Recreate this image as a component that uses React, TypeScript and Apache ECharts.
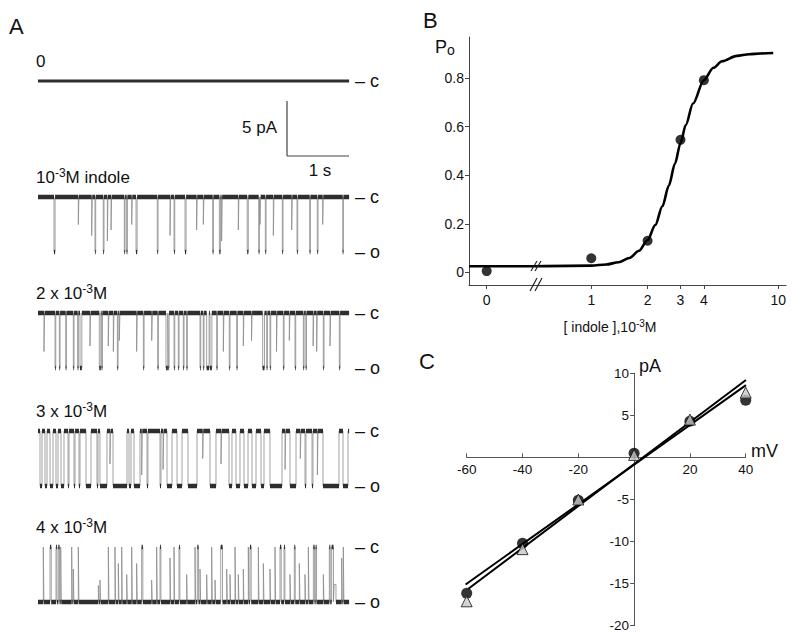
import React, { useEffect, useRef } from "react";
import * as echarts from "echarts";

const FONT = "'Liberation Sans', Arial, Helvetica, sans-serif";

// ---------------- Panel A : single-channel records ----------------
const traceDuration = 5.1; // s
const unitaryCurrent = -5; // pA (open level)
const traceLabelParts = [
  ["0", "", ""],
  ["10", "-3", "M indole"],
  ["2 x 10", "-3", "M"],
  ["3 x 10", "-3", "M"],
  ["4 x 10", "-3", "M"],
];
// base state of each record: 0 = closed, 1 = open
const traceBase = [0, 0, 0, 0, 1];
// events: [start s, end s, open fraction]
const trace0Events: number[][] = [];
const trace1Events: number[][] = [
  [0.262, 0.28, 1], [0.661, 0.671, 0.5], [0.88, 0.89, 0.7], [0.934, 0.946, 1], [1.07, 1.082, 1],
  [1.137, 1.147, 0.8], [1.197, 1.207, 0.6], [1.415, 1.427, 1], [1.453, 1.465, 1], [1.536, 1.546, 0.5],
  [1.607, 1.625, 1], [1.956, 1.968, 1], [2.164, 2.174, 0.7], [2.23, 2.242, 1], [2.41, 2.428, 1],
  [2.6, 2.61, 0.6], [2.71, 2.72, 0.5], [2.864, 2.876, 1], [2.973, 2.991, 1], [3.01, 3.02, 0.8],
  [3.284, 3.294, 0.6], [3.43, 3.448, 1], [3.618, 3.63, 1], [3.64, 3.65, 0.5], [3.727, 3.739, 1],
  [3.858, 3.868, 0.7], [4.005, 4.017, 1], [4.159, 4.169, 0.6], [4.246, 4.258, 1], [4.454, 4.466, 1],
  [4.579, 4.591, 1], [4.667, 4.677, 0.5], [4.995, 5.007, 1],
];
const trace2Events: number[][] = [
  [0.098, 0.108, 0.7], [0.279, 0.291, 1], [0.35, 0.362, 1], [0.454, 0.466, 1], [0.579, 0.591, 1],
  [0.65, 0.662, 1], [0.689, 0.719, 1], [0.852, 0.862, 0.6], [1.005, 1.03, 1], [1.044, 1.056, 1],
  [1.152, 1.162, 0.6], [1.235, 1.245, 0.7], [1.301, 1.313, 1], [1.333, 1.343, 0.5], [1.617, 1.627, 0.7],
  [1.727, 1.739, 1], [1.864, 1.874, 0.5], [1.962, 1.974, 1], [2.098, 2.128, 1], [2.137, 2.149, 1],
  [2.23, 2.242, 1], [2.3, 2.312, 1], [2.382, 2.394, 1], [2.437, 2.449, 1], [2.656, 2.668, 1],
  [2.71, 2.722, 1], [2.765, 2.805, 1], [2.82, 2.85, 1], [2.929, 2.941, 1], [3.038, 3.048, 0.7],
  [3.136, 3.148, 1], [3.257, 3.269, 1], [3.366, 3.376, 0.6], [3.5, 3.51, 0.5], [3.683, 3.713, 1],
  [3.749, 3.761, 1], [3.803, 3.815, 1], [3.91, 3.92, 0.7], [4.022, 4.034, 1], [4.12, 4.13, 0.5],
  [4.213, 4.225, 1], [4.35, 4.362, 1], [4.39, 4.402, 1], [4.51, 4.52, 0.6], [4.568, 4.578, 0.7],
  [4.677, 4.689, 1], [4.787, 4.797, 0.6], [4.94, 4.952, 1],
];
const trace3Events: number[][] = [
  [0.033, 0.066, 1], [0.115, 0.148, 1], [0.197, 0.246, 1], [0.295, 0.328, 1], [0.377, 0.426, 1],
  [0.492, 0.508, 1], [0.59, 0.607, 1], [0.672, 0.689, 1], [0.787, 0.869, 1], [0.967, 0.984, 1],
  [1.016, 1.131, 1], [1.18, 1.19, 0.6], [1.23, 1.459, 1], [1.492, 1.525, 1], [1.574, 1.672, 1],
  [1.7, 1.71, 0.8], [1.787, 1.803, 1], [2.0, 2.016, 1], [2.05, 2.06, 0.7], [2.115, 2.197, 1],
  [2.279, 2.361, 1], [2.459, 2.607, 1], [2.7, 2.71, 0.5], [2.82, 2.918, 1], [3.0, 3.01, 0.6],
  [3.131, 3.18, 1], [3.246, 3.311, 1], [3.377, 3.443, 1], [3.508, 3.574, 1], [3.656, 3.705, 1],
  [3.803, 4.0, 1], [4.05, 4.06, 0.7], [4.131, 4.23, 1], [4.3, 4.31, 0.5], [4.377, 4.393, 1],
  [4.492, 4.508, 1], [4.58, 4.59, 0.8], [4.672, 4.934, 1], [5.0, 5.082, 1],
];
const trace4Events: number[][] = [
  [0.087, 0.097, 0], [0.197, 0.217, 0], [0.295, 0.31, 0], [0.333, 0.353, 0], [0.372, 0.382, 0],
  [0.552, 0.562, 0], [0.579, 0.589, 0.4], [0.661, 0.671, 0], [0.989, 0.999, 0.7], [1.016, 1.026, 0.6],
  [1.153, 1.163, 0], [1.262, 1.272, 0], [1.317, 1.327, 0.3], [1.372, 1.382, 0], [1.454, 1.464, 0.5],
  [1.536, 1.546, 0], [1.617, 1.627, 0.3], [1.699, 1.719, 0], [1.863, 1.873, 0.6], [1.945, 1.955, 0],
  [2.0, 2.015, 0], [2.164, 2.174, 0.2], [2.23, 2.24, 0], [2.311, 2.326, 0], [2.437, 2.447, 0.5],
  [2.574, 2.584, 0], [2.612, 2.632, 0], [2.656, 2.666, 0.4], [2.765, 2.775, 0.5], [2.847, 2.857, 0],
  [2.902, 2.912, 0.6], [2.995, 3.025, 0], [3.093, 3.103, 0.4], [3.148, 3.158, 0.5], [3.23, 3.24, 0],
  [3.284, 3.294, 0.5], [3.366, 3.376, 0.4], [3.448, 3.458, 0], [3.475, 3.495, 0], [3.612, 3.622, 0],
  [3.694, 3.704, 0.3], [3.803, 3.813, 0.4], [3.885, 3.895, 0], [3.967, 3.987, 0], [4.033, 4.048, 0],
  [4.131, 4.141, 0.5], [4.202, 4.217, 0], [4.284, 4.294, 0.3], [4.377, 4.387, 0.5], [4.432, 4.442, 0],
  [4.514, 4.534, 0], [4.552, 4.567, 0], [4.678, 4.688, 0.5], [4.776, 4.791, 0], [4.814, 4.844, 0],
  [4.855, 4.885, 0.68], [4.978, 4.988, 0.2], [5.005, 5.015, 0],
];
const traceEvents = [trace0Events, trace1Events, trace2Events, trace3Events, trace4Events];

// ---------------- Panel B : Po vs [indole] ----------------
const poConc = [0, 1, 2, 3, 4]; // 10^-3 M
const poValues = [0.005, 0.058, 0.13, 0.546, 0.792];
const fitBaseline = 0.025;
const fitConc = [0.5, 1.0, 1.2, 1.4, 1.6, 1.8, 2.0, 2.2, 2.4, 2.6, 2.8, 3.0, 3.2, 3.5, 4.0, 4.5, 5.0, 6.0, 7.0, 8.0, 9.4];
const fitPo = [0.025, 0.0275, 0.032, 0.0415, 0.059, 0.0885, 0.133, 0.195, 0.272, 0.358, 0.447, 0.532, 0.607, 0.696, 0.792, 0.843, 0.87, 0.892, 0.899, 0.902, 0.904];
const poTicks = [0, 0.2, 0.4, 0.6, 0.8];
const concTicks = [1, 2, 3, 4, 10];

// ---------------- Panel C : I-V ----------------
const ivVoltage = [-60, -40, -20, 0, 20, 40]; // mV
const ivCircles = [-16.15, -10.2, -5.1, 0.5, 4.3, 6.8]; // pA
const ivTriangles = [-17.1, -10.9, -5.0, 0.3, 4.5, 7.7]; // pA
const ivFitCircles = [[-60.4, -15.1], [40.1, 8.6]];
const ivFitTriangles = [[-59.4, -15.6], [40.1, 9.2]];

// ---------------- layout ----------------
const traceClosedY = [81, 197, 313, 431, 547];
const PX_PER_PA = 11;
const traceYMin = -6.5;
const traceYMax = 1;
const bLeftMin = -1;
const bLeftMax = 2.73;
const concMin = 0.5;
const concMax = 11;
const poMin = -0.0524;
const poMax = 0.97;
const cGrid = { left: 466.7, top: 373.3, width: 279, height: 252.4 };
const cXMin = -60, cXMax = 40, cYMin = -20, cYMax = 10;

function sortedEvents(ev: number[][]) {
  return ev.slice().sort((a, b) => a[0] - b[0]);
}

function buildStep(events: number[][], base: number) {
  const b = base * unitaryCurrent;
  const pts: (number | null)[][] = [[0, b]];
  for (const [s, e, l] of sortedEvents(events)) {
    const v = l * unitaryCurrent;
    pts.push([s, b], [s, v], [e, v], [e, b]);
  }
  pts.push([traceDuration, b]);
  return pts;
}

function buildBand(events: number[][], base: number) {
  const b = base * unitaryCurrent;
  const pts: (number | null)[][] = [];
  let cur = 0;
  for (const [s, e, l] of sortedEvents(events)) {
    if (s > cur) pts.push([cur, b], [s, b], [s, null]);
    if (l === 0 || l === 1) {
      const v = l * unitaryCurrent;
      pts.push([s, v], [e, v], [e, null]);
    }
    cur = Math.max(cur, e);
  }
  pts.push([cur, b], [traceDuration, b]);
  return pts;
}

function txt(text: string, x: number, y: number, size: number, align = "left", extra: any = {}) {
  return {
    type: "text",
    x,
    y,
    z: 100,
    style: { text, fontSize: size, fontFamily: FONT, fill: "#111", align, verticalAlign: "middle", ...extra },
  };
}

function supText(parts: string[], x: number, y: number, size: number, supSize: number, align = "left") {
  const text = parts[1] ? `{n|${parts[0]}}{s|${parts[1]}}{n|${parts[2]}}` : `{n|${parts[0]}}`;
  return {
    type: "text",
    x,
    y,
    z: 100,
    style: {
      text,
      align,
      verticalAlign: "middle",
      rich: {
        n: { fontSize: size, fontFamily: FONT, fill: "#111", lineHeight: size + 4 },
        s: { fontSize: supSize, fontFamily: FONT, fill: "#111", lineHeight: 8, verticalAlign: "top" },
      },
    },
  };
}

function line(x1: number, y1: number, x2: number, y2: number, w = 1, color = "#333") {
  return { type: "line", z: 100, shape: { x1, y1, x2, y2 }, style: { stroke: color, lineWidth: w } };
}

function buildOption() {
  const grid: any[] = [];
  const xAxis: any[] = [];
  const yAxis: any[] = [];
  const series: any[] = [];
  const graphic: any[] = [];

  // Panel A grids
  traceClosedY.forEach((cy, k) => {
    grid.push({ left: 38, top: cy - traceYMax * PX_PER_PA, width: 311.1, height: (traceYMax - traceYMin) * PX_PER_PA });
    xAxis.push({ gridIndex: k, type: "value", min: 0, max: traceDuration, show: false });
    yAxis.push({ gridIndex: k, type: "value", min: traceYMin, max: traceYMax, show: false });
    if (traceEvents[k].length) {
      series.push({
        type: "line", xAxisIndex: k, yAxisIndex: k, data: buildStep(traceEvents[k], traceBase[k]),
        showSymbol: false, symbol: "none", silent: true, z: 2,
        lineStyle: { color: "#8a8a8a", width: 0.8 },
      });
    }
    series.push({
      type: "line", xAxisIndex: k, yAxisIndex: k, data: buildBand(traceEvents[k], traceBase[k]),
      showSymbol: false, symbol: "none", silent: true, z: 3, connectNulls: false,
      lineStyle: { color: "#2e2e2e", width: k === 0 ? 3 : 4.5 },
    });
    graphic.push(supText(traceLabelParts[k], 36, cy - 20, 17, 12));
    graphic.push(txt("– c", 355, cy, 18));
    if (k > 0) graphic.push(txt("– o", 355, cy - unitaryCurrent * PX_PER_PA, 18));
  });

  const axisColor = "#444";
  const lab = { color: "#111", fontFamily: FONT };

  // Panel B left segment (0)
  grid.push({ left: 469, top: 37, width: 66, height: 248 });
  xAxis.push({
    gridIndex: 5, type: "value", min: bLeftMin, max: bLeftMax, position: "bottom",
    axisLine: { show: true, onZero: false, lineStyle: { color: axisColor, width: 1 } },
    axisTick: { show: true, customValues: [0], length: 4, lineStyle: { color: axisColor } },
    axisLabel: { customValues: [0], fontSize: 14, margin: 8, ...lab },
    splitLine: { show: false },
  });
  yAxis.push({
    gridIndex: 5, type: "value", min: poMin, max: poMax, position: "left",
    axisLine: { show: true, onZero: false, lineStyle: { color: axisColor, width: 1 } },
    axisTick: { show: true, customValues: poTicks, length: 4, lineStyle: { color: axisColor } },
    axisLabel: { customValues: poTicks, fontSize: 14, margin: 5, formatter: (v: number) => (v === 0 ? "0" : v.toFixed(1)), ...lab },
    splitLine: { show: false },
  });
  // Panel B right segment (log)
  grid.push({ left: 535, top: 37, width: 251, height: 248 });
  xAxis.push({ gridIndex: 6, type: "log", min: concMin, max: concMax, show: false });
  xAxis.push({
    gridIndex: 6, type: "value", min: Math.log10(concMin), max: Math.log10(concMax), position: "bottom",
    axisLine: { show: true, onZero: false, lineStyle: { color: axisColor, width: 1 } },
    axisTick: { show: true, customValues: concTicks.map((c) => Math.log10(c)), length: 4, lineStyle: { color: axisColor } },
    axisLabel: {
      customValues: concTicks.map((c) => Math.log10(c)), fontSize: 14, margin: 8,
      formatter: (v: number) => String(Math.round(Math.pow(10, v))), ...lab,
    },
    splitLine: { show: false },
  });
  yAxis.push({ gridIndex: 6, type: "value", min: poMin, max: poMax, show: false });

  series.push({
    type: "line", xAxisIndex: 5, yAxisIndex: 5, data: [[bLeftMin, fitBaseline], [bLeftMax, fitBaseline]],
    showSymbol: false, symbol: "none", silent: true, lineStyle: { color: "#000", width: 2.6 }, z: 3,
  });
  series.push({
    type: "scatter", xAxisIndex: 5, yAxisIndex: 5, symbolSize: 10, itemStyle: { color: "#000" }, z: 4,
    data: poConc.map((c, i) => [c, poValues[i]]).filter((d) => d[0] === 0),
  });
  series.push({
    type: "line", xAxisIndex: 6, yAxisIndex: 6, data: fitConc.map((c, i) => [c, fitPo[i]]),
    showSymbol: false, symbol: "none", silent: true, smooth: 0.3, smoothMonotone: "x",
    lineStyle: { color: "#000", width: 2.6 }, z: 3,
  });
  series.push({
    type: "scatter", xAxisIndex: 6, yAxisIndex: 6, symbolSize: 10, itemStyle: { color: "#000" }, z: 4,
    data: poConc.map((c, i) => [c, poValues[i]]).filter((d) => d[0] > 0),
  });

  // Panel C : axes crossing at the origin (offset moves them onto the zero lines)
  grid.push(cGrid);
  xAxis.push({
    gridIndex: 7, type: "value", min: cXMin, max: cXMax, interval: 20, position: "bottom",
    offset: -((0 - cYMin) / (cYMax - cYMin)) * cGrid.height,
    axisLine: { show: true, onZero: false, lineStyle: { color: "#555", width: 1 } },
    axisTick: { show: true, inside: true, length: 4, lineStyle: { color: "#555" } },
    axisLabel: { fontSize: 13.5, margin: 5, formatter: (v: number) => (v === 0 ? "" : String(v)), ...lab },
    splitLine: { show: false },
  });
  yAxis.push({
    gridIndex: 7, type: "value", min: cYMin, max: cYMax, interval: 5, position: "left",
    offset: -((0 - cXMin) / (cXMax - cXMin)) * cGrid.width,
    axisLine: { show: true, onZero: false, lineStyle: { color: "#555", width: 1 } },
    axisTick: { show: true, length: 4, lineStyle: { color: "#555" } },
    axisLabel: { fontSize: 13.5, margin: 5, formatter: (v: number) => (v === 0 ? "" : String(v)), ...lab },
    splitLine: { show: false },
  });
  series.push({
    type: "line", xAxisIndex: 8, yAxisIndex: 7, data: ivFitCircles, showSymbol: false, symbol: "none",
    silent: true, lineStyle: { color: "#000", width: 2 }, z: 3,
  });
  series.push({
    type: "line", xAxisIndex: 8, yAxisIndex: 7, data: ivFitTriangles, showSymbol: false, symbol: "none",
    silent: true, lineStyle: { color: "#000", width: 2 }, z: 3,
  });
  series.push({
    type: "scatter", xAxisIndex: 8, yAxisIndex: 7, symbol: "circle", symbolSize: 11,
    itemStyle: { color: "#000" }, z: 4, data: ivVoltage.map((v, i) => [v, ivCircles[i]]),
  });
  series.push({
    type: "scatter", xAxisIndex: 8, yAxisIndex: 7, symbol: "triangle", symbolSize: 11,
    itemStyle: { color: "#c8c8c8", borderColor: "#111", borderWidth: 1 }, z: 5,
    data: ivVoltage.map((v, i) => [v, ivTriangles[i]]),
  });

  // annotations
  graphic.push(txt("A", 9, 26, 22));
  graphic.push(txt("B", 423, 20, 22));
  graphic.push(txt("C", 419, 361, 22));
  // scale bar
  graphic.push(line(287, 101, 287, 156, 1.2, "#444"));
  graphic.push(line(287, 156, 349, 156, 1.2, "#444"));
  graphic.push(txt("5 pA", 277, 127, 17, "right"));
  graphic.push(txt("1 s", 320, 170, 17, "center"));
  // Po label and concentration title
  graphic.push({
    type: "text", x: 435, y: 47, z: 100,
    style: {
      text: "{p|P}{o|o}", align: "left", verticalAlign: "middle",
      rich: {
        p: { fontSize: 18, fontFamily: FONT, fill: "#111", lineHeight: 20 },
        o: { fontSize: 14, fontFamily: FONT, fill: "#111", lineHeight: 10, verticalAlign: "bottom" },
      },
    },
  });
  graphic.push(supText(["[ indole ],10", "-3", "M"], 610, 327, 14, 10, "center"));
  // axis breaks
  graphic.push(line(530, 291, 537, 278, 1.2, "#222"));
  graphic.push(line(535, 291, 542, 278, 1.2, "#222"));
  graphic.push(line(531, 271, 537, 261, 1.2, "#222"));
  graphic.push(line(535, 271, 541, 261, 1.2, "#222"));
  // I-V axis titles
  graphic.push(txt("pA", 639, 366, 18));
  graphic.push(txt("mV", 751, 451, 18));

  return {
    animation: false,
    backgroundColor: "#fff",
    textStyle: { fontFamily: FONT },
    grid,
    xAxis,
    yAxis,
    series,
    graphic,
  };
}

export default function App() {
  const ref = useRef<HTMLDivElement>(null);
  useEffect(() => {
    const chart = echarts.init(ref.current!, undefined, { renderer: "svg" });
    chart.setOption(buildOption() as any);
    return () => chart.dispose();
  }, []);
  return (
    <div
      ref={ref}
      style={{ position: "absolute", left: 0, top: 0, width: 800, height: 638, background: "#fff" }}
    />
  );
}
